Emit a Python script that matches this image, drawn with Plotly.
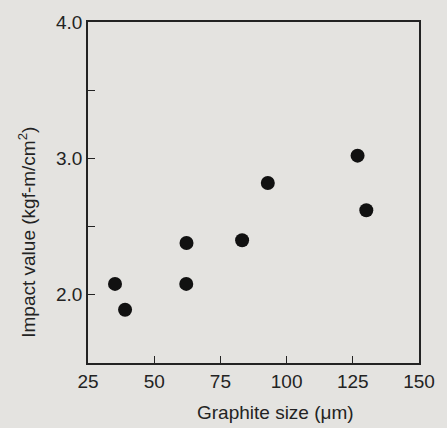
import plotly.graph_objects as go

graphite_size = [35.2, 39.0, 62.2, 62.1, 83.2, 92.9, 126.8, 130.1]
impact_value = [2.08, 1.89, 2.38, 2.08, 2.40, 2.82, 3.02, 2.62]

x_ticks = [25, 50, 75, 100, 125, 150]
y_tickvals = [2.0, 2.5, 3.0, 3.5, 4.0]
y_ticktext = ["2.0", "", "3.0", "", "4.0"]

bg = "#e4e3e0"
ink = "#232323"
font = "Liberation Sans, Arial, sans-serif"

L, R, T, B = 88, 427, 16, 363
PW, PH = R - L, B - T

fig = go.Figure(go.Scatter(
    x=graphite_size, y=impact_value, mode="markers",
    marker=dict(size=14, color="#111111"),
    showlegend=False,
))

fig.update_layout(
    width=447, height=428,
    margin=dict(l=L, r=447 - R, t=T, b=428 - B),
    paper_bgcolor=bg, plot_bgcolor=bg,
    font=dict(family=font, size=19, color=ink),
    xaxis=dict(range=[25, 150], tickvals=x_ticks, ticks="inside", ticklen=7,
               tickcolor=ink, showgrid=False, zeroline=False, showline=True,
               linecolor=ink, linewidth=1.6, mirror=True,
               tickfont=dict(size=19, color=ink)),
    yaxis=dict(range=[1.5, 4.0], tickvals=y_tickvals, ticktext=y_ticktext,
               ticks="inside", ticklen=7, tickcolor=ink, showgrid=False,
               zeroline=False, showline=True, linecolor=ink, linewidth=1.6,
               mirror=True, tickfont=dict(size=19, color=ink)),
    annotations=[
        dict(text="Graphite size (μm)", xref="paper", yref="paper",
             x=(280 - L) / PW, y=-(413 - B) / PH, xanchor="center",
             yanchor="middle", showarrow=False, font=dict(size=19, color=ink)),
        dict(text="Impact value (kgf-m/cm<sup>2</sup>)", xref="paper", yref="paper",
             x=-(L - 26) / PW, y=(B - 230) / PH, xanchor="center",
             yanchor="middle", textangle=-90, showarrow=False,
             font=dict(size=19, color=ink)),
    ],
)

fig.write_html("out.html")
